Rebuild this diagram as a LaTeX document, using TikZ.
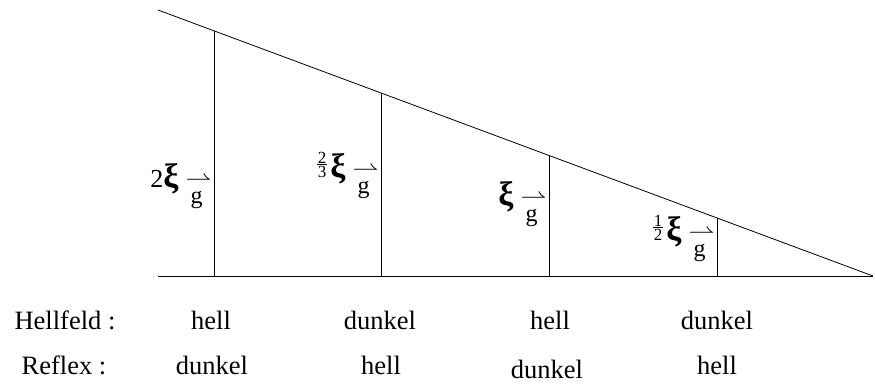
\documentclass[tikz,border=0pt]{standalone}
\usepackage{amsmath}
\usepackage{fontspec}
\setmainfont{Liberation Serif}
\usetikzlibrary{positioning}
\tikzset{
  % row text (Hellfeld / Reflex)
  rowlbl/.style={font=\fontsize{26.5}{30}\selectfont, anchor=base, inner sep=0pt},
  % xi label left of a vertical
  xilbl/.style={font=\fontsize{26}{30}\selectfont, anchor=base east, inner sep=1pt},
}
\newcommand{\harp}{{\fontsize{10}{10}\selectfont\scalebox{2.6}[2.3]{$\rightharpoonup$}}}
\newcommand{\gvec}{\hspace{7pt}\raisebox{-16pt}{\fontsize{24}{24}\selectfont\makebox[0pt][l]{\raisebox{18pt}{\harp}}\hspace{5pt}g\hspace{9pt}}}
\newcommand{\xig}{{\fontsize{34}{34}\selectfont\bfseries ξ}\gvec}
\newcommand{\fr}[2]{\raisebox{0pt}{\fontsize{17}{17}\selectfont\vbox{\offinterlineskip\halign{\hfil\kern1pt##\kern1pt\hfil\cr #1\cr\noalign{\kern1pt\hrule height0.7pt\kern1pt}#2\cr}}}\hspace{3pt}}

\begin{document}
\begin{tikzpicture}[x=1pt,y=-1pt,line width=0.8pt]
  \useasboundingbox (0,0) rectangle (875,386);

  % wedge
  \coordinate (tl) at (158,10);
  \coordinate (bl) at (158,276);
  \coordinate (br) at (873,276);
  \draw (tl) -- (br);
  \draw (bl) -- (br);

  % verticals
  \foreach \i/\x/\y in {1/214/30.8, 2/381/93.0, 3/549/155.5, 4/717/218.0} {
    \coordinate (t\i) at (\x,\y);
    \coordinate (b\i) at (\x,276);
    \draw (b\i) -- (t\i);
  }

  % thickness labels
  \node[xilbl] (l1) at (213,187) {2\xig};
  \node[xilbl] (l2) at (380,177) {\fr{2}{3}\xig};
  \node[xilbl] (l3) at (548,205) {\xig};
  \node[xilbl] (l4) at (716,240) {\fr{1}{2}\xig};

  % Hellfeld row
  \node[rowlbl] (hf) at (65,329) {Hellfeld :};
  \node[rowlbl] (hf1) at (211,329) {hell};
  \node[rowlbl] (hf2) at (380,329) {dunkel};
  \node[rowlbl] (hf3) at (550,329) {hell};
  \node[rowlbl] (hf4) at (717,329) {dunkel};

  % Reflex row
  \node[rowlbl] (rf) at (64,374) {Reflex :};
  \node[rowlbl] (rf1) at (212,374) {dunkel};
  \node[rowlbl] (rf2) at (381,374) {hell};
  \node[rowlbl] (rf3) at (547,378) {dunkel};
  \node[rowlbl] (rf4) at (717,374) {hell};
\end{tikzpicture}
\end{document}
